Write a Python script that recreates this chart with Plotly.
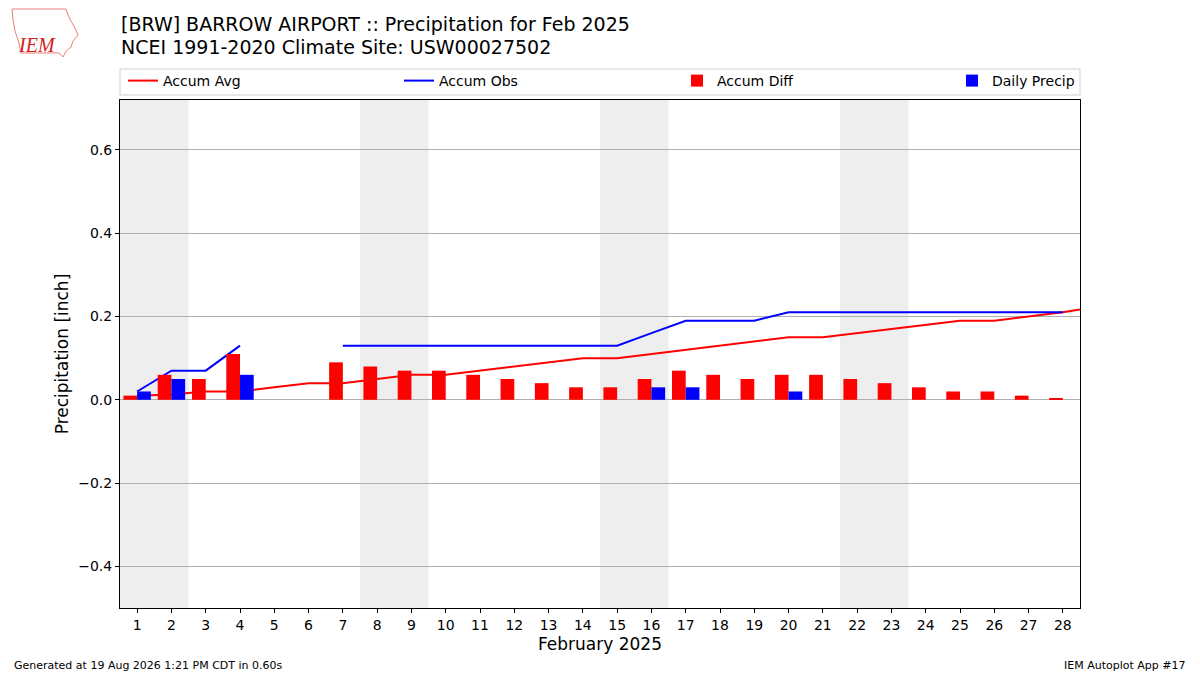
import datetime
import plotly.graph_objects as go

# ---------------- data ----------------
days = list(range(1, 29))
avg_days = list(range(1, 30))
accum_avg = [0.01, 0.013, 0.02, 0.02, 0.03, 0.04, 0.04, 0.05, 0.06, 0.06,
             0.07, 0.08, 0.09, 0.10, 0.10, 0.11, 0.12, 0.13, 0.14, 0.15,
             0.15, 0.16, 0.17, 0.18, 0.19, 0.19, 0.20, 0.21, 0.224]
accum_obs = [0.02, 0.07, 0.07, 0.13, None, None, 0.13, 0.13, 0.13, 0.13,
             0.13, 0.13, 0.13, 0.13, 0.13, 0.16, 0.19, 0.19, 0.19, 0.21,
             0.21, 0.21, 0.21, 0.21, 0.21, 0.21, 0.21, 0.21]
accum_diff = [0.01, 0.06, 0.05, 0.11, None, None, 0.09, 0.08, 0.07, 0.07,
              0.06, 0.05, 0.04, 0.03, 0.03, 0.05, 0.07, 0.06, 0.05, 0.06,
              0.06, 0.05, 0.04, 0.03, 0.02, 0.02, 0.01, 0.003]
daily_precip = [0.02, 0.05, None, 0.06, None, None, None, None, None, None,
                None, None, None, None, None, 0.03, 0.03, None, None, 0.02,
                None, None, None, None, None, None, None, None]
year, month = 2025, 2
yticks = [-0.4, -0.2, 0.0, 0.2, 0.4, 0.6]

title1 = "[BRW] BARROW AIRPORT :: Precipitation for Feb 2025"
title2 = "NCEI 1991-2020 Climate Site: USW00027502"
footer_left = "Generated at 19 Aug 2026 1:21 PM CDT in 0.60s"
footer_right = "IEM Autoplot App #17"

FONT = "DejaVu Sans"
W, H = 1200, 675
ML, MR, MT, MB = 120, 120, 100, 67
PW, PH = W - ML - MR, H - MT - MB


def px_x(p):
    return (p - ML) / PW


def px_y(p):
    return (H - MB - p) / PH


fig = go.Figure()

fig.add_trace(go.Scatter(x=avg_days, y=accum_avg, mode="lines", name="Accum Avg",
                         line=dict(color="#ff0000", width=2), legend="legend"))
fig.add_trace(go.Scatter(x=days, y=accum_obs, mode="lines", name="Accum Obs",
                         line=dict(color="#0000ff", width=2), legend="legend2",
                         connectgaps=False))
fig.add_trace(go.Bar(x=days, y=accum_diff, name="Accum Diff", marker_color="#ff0000",
                     marker_line_width=0, width=0.4, offset=-0.4, yaxis="y2",
                     legend="legend3"))
fig.add_trace(go.Bar(x=days, y=daily_precip, name="Daily Precip", marker_color="#0000ff",
                     marker_line_width=0, width=0.4, offset=0.0, yaxis="y2",
                     legend="legend4"))

# weekend shading (merge consecutive weekend days)
shapes = []
runs = []
for d in days:
    if datetime.date(year, month, d).weekday() >= 5:
        if runs and runs[-1][1] == d - 1:
            runs[-1][1] = d
        else:
            runs.append([d, d])
for a, b in runs:
    shapes.append(dict(type="rect", xref="x", yref="paper", x0=a - 0.5, x1=b + 0.5,
                       y0=0, y1=1, fillcolor="#eeeeee", line_width=0, layer="below"))
# legend frame
shapes.append(dict(type="rect", xref="paper", yref="paper", x0=px_x(120), x1=px_x(1080),
                   y0=px_y(95), y1=px_y(69), line=dict(color="#d0d0d0", width=1),
                   fillcolor="rgba(255,255,255,0.8)", layer="above"))
# logo outline (decorative)
logo_pts = [(12, 9), (66, 9), (68, 15), (71, 21), (75, 28), (78, 35), (73, 41),
            (71, 47), (66, 51), (63, 57), (59, 53), (21, 53), (19, 43), (15, 31),
            (13, 20)]
path = "M " + " L ".join(f"{px_x(a):.5f},{px_y(b):.5f}" for a, b in logo_pts) + " Z"
shapes.append(dict(type="path", xref="paper", yref="paper", path=path,
                   line=dict(color="#e88080", width=1), layer="above"))

yr = [-0.5, 0.72]
fig.update_layout(
    width=W, height=H,
    margin=dict(l=ML, r=MR, t=MT, b=MB),
    paper_bgcolor="white", plot_bgcolor="white",
    font=dict(family=FONT, color="black", size=14),
    barmode="overlay",
    showlegend=True,
    hovermode=False,
    xaxis=dict(range=[0.5, 28.5], tickmode="array", tickvals=days,
               ticktext=[str(d) for d in days], showgrid=False, zeroline=False,
               showline=True, linecolor="black", linewidth=1, mirror=True,
               ticks="outside", ticklen=4, tickcolor="black",
               tickfont=dict(size=14),
               title=dict(text="February 2025", font=dict(size=17), standoff=6)),
    yaxis=dict(range=yr, tickmode="array", tickvals=yticks,
               ticktext=[("\u2212" if v < 0 else "") + f"{abs(v):.1f}" for v in yticks],
               showgrid=True, gridcolor="#b0b0b0", gridwidth=1, zeroline=False,
               showline=True, linecolor="black", linewidth=1, mirror=True,
               ticks="outside", ticklen=4, tickcolor="black",
               tickfont=dict(size=14),
               title=dict(text="Precipitation [inch]", font=dict(size=17), standoff=5)),
    yaxis2=dict(range=yr, overlaying="y", visible=False, showgrid=False,
                zeroline=False),
    shapes=shapes,
)

leg_y = px_y(81)
leg_common = dict(orientation="h", yanchor="middle", xanchor="left",
                  bgcolor="rgba(0,0,0,0)", borderwidth=0,
                  font=dict(size=14, family=FONT), itemwidth=30)
fig.update_layout(
    legend=dict(x=px_x(123), y=leg_y, **leg_common),
    legend2=dict(x=px_x(399), y=leg_y, **leg_common),
    legend3=dict(x=px_x(677), y=leg_y, **leg_common),
    legend4=dict(x=px_x(952), y=leg_y, **leg_common),
)

ann = [
    dict(text=title1, x=px_x(119), y=px_y(24), xanchor="left", yanchor="middle",
         font=dict(size=19)),
    dict(text=title2, x=px_x(119), y=px_y(47), xanchor="left", yanchor="middle",
         font=dict(size=19)),
    dict(text=footer_left, x=px_x(12), y=px_y(665), xanchor="left", yanchor="middle",
         font=dict(size=11)),
    dict(text=footer_right, x=px_x(1188), y=px_y(665), xanchor="right", yanchor="middle",
         font=dict(size=11)),
    dict(text="<i>IEM</i>", x=px_x(37), y=px_y(45), xanchor="center", yanchor="middle",
         font=dict(size=20, family="Liberation Serif", color="#d62020")),
]
for a in ann:
    a.update(xref="paper", yref="paper", showarrow=False)
fig.update_layout(annotations=ann)

fig.write_html("out.html", config={"displayModeBar": False},
               post_script="document.body.style.margin='0';document.body.style.overflow='hidden';")
